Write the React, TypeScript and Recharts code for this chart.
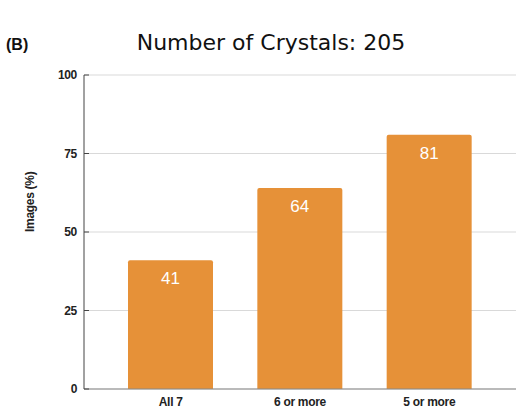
import { BarChart, Bar, XAxis, YAxis, CartesianGrid, LabelList } from "recharts";

const categories = ["All 7", "6 or more", "5 or more"];
const imagesPct = [41, 64, 81];
const yTicks = [0, 25, 50, 75, 100];

const data = categories.map((name, i) => ({ name, value: imagesPct[i] }));

const tickFont = {
  fontFamily: "'Liberation Sans Narrow', 'Liberation Sans', Arial, sans-serif",
  fontSize: 12,
  fontWeight: 700,
  letterSpacing: -0.3,
  fill: "#222",
};

export default function App() {
  return (
    <div style={{ position: "absolute", left: 0, top: 0, width: 530, height: 415, background: "#fff" }}>
      <div
        style={{
          position: "absolute",
          left: 6,
          top: 36,
          fontFamily: "'Liberation Sans', Arial, sans-serif",
          fontWeight: 700,
          fontSize: 16,
          color: "#111",
        }}
      >
        (B)
      </div>
      <div
        style={{
          position: "absolute",
          left: 0,
          width: 542,
          top: 30,
          textAlign: "center",
          fontFamily: "'DejaVu Sans', sans-serif",
          fontSize: 22,
          color: "#111",
        }}
      >
        Number of Crystals: 205
      </div>
      <BarChart
        width={530}
        height={415}
        data={data}
        margin={{ top: 75, right: 14, bottom: 0, left: 0 }}
        barCategoryGap={22}
      >
        <CartesianGrid vertical={false} stroke="#d9d9d9" />
        <XAxis
          dataKey="name"
          height={26}
          padding={{ left: 22, right: 22 }}
          tick={tickFont}
          tickLine={false}
          axisLine={{ stroke: "#888" }}
        />
        <YAxis
          width={84}
          domain={[0, 100]}
          ticks={yTicks}
          tick={tickFont}
          tickSize={5}
          axisLine={{ stroke: "#444" }}
          tickLine={{ stroke: "#444", transform: "translate(5,0)" }}
          label={{
            value: "Images (%)",
            angle: -90,
            position: "insideLeft",
            offset: 30,
            style: { ...tickFont, fontFamily: "'Liberation Sans', Arial, sans-serif", fontSize: 12 },
          }}
        />
        <Bar dataKey="value" fill="#E69138" radius={[2, 2, 0, 0]} isAnimationActive={false}>
          <LabelList
            dataKey="value"
            position="insideTop"
            offset={12}
            fill="#fff"
            style={{ fontFamily: "'Liberation Sans', Arial, sans-serif", fontSize: 17 }}
          />
        </Bar>
      </BarChart>
    </div>
  );
}
